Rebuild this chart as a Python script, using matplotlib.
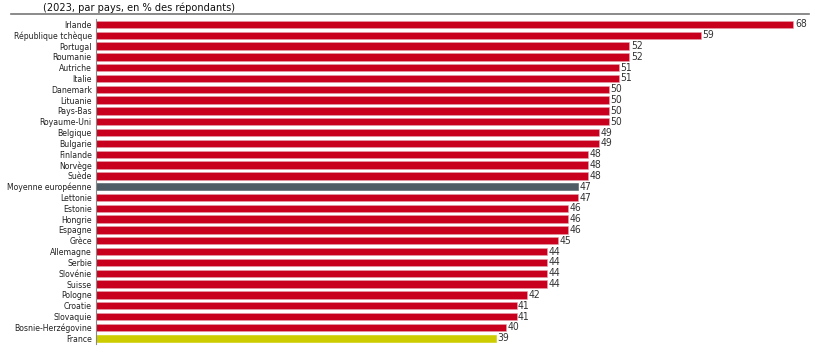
import matplotlib.pyplot as plt
from matplotlib.lines import Line2D

pays = ["Irlande", "République tchèque", "Portugal", "Roumanie", "Autriche", "Italie",
        "Danemark", "Lituanie", "Pays-Bas", "Royaume-Uni", "Belgique", "Bulgarie",
        "Finlande", "Norvège", "Suède", "Moyenne européenne", "Lettonie", "Estonie",
        "Hongrie", "Espagne", "Grèce", "Allemagne", "Serbie", "Slovénie", "Suisse",
        "Pologne", "Croatie", "Slovaquie", "Bosnie-Herzégovine", "France"]
valeurs = [68, 59, 52, 52, 51, 51, 50, 50, 50, 50, 49, 49, 48, 48, 48, 47, 47, 46,
           46, 46, 45, 44, 44, 44, 44, 42, 41, 41, 40, 39]

ROUGE = "#c8001e"
GRIS = "#4f5e66"
JAUNE = "#cccc00"

couleurs = []
for p in pays:
    if p == "Moyenne européenne":
        couleurs.append(GRIS)
    elif p == "France":
        couleurs.append(JAUNE)
    else:
        couleurs.append(ROUGE)

fig = plt.figure(figsize=(8.17, 3.51), dpi=100)
ax = fig.add_axes([0.1175, 0.021, 0.8725, 0.925])

y = list(range(len(pays)))
ax.barh(y, valeurs, height=0.68, color=couleurs, edgecolor="#e8a0aa", linewidth=0.4)
for barre, c in zip(ax.patches, couleurs):
    if c != ROUGE:
        barre.set_edgecolor(c)

for yi, v in zip(y, valeurs):
    ax.text(v + 0.15, yi, str(v), va="center", ha="left", fontsize=7.5,
            color="#333333", fontstretch="condensed")

ax.set_yticks(y)
ax.set_yticklabels(pays, fontsize=6.2, color="#222222", fontstretch="condensed")
ax.tick_params(axis="y", length=0, pad=3)
ax.set_ylim(len(pays) - 0.5, -0.5)
ax.set_xlim(0, 69.5)
ax.set_xticks([])

for s in ["top", "right", "bottom"]:
    ax.spines[s].set_visible(False)
ax.spines["left"].set_color("#888888")
ax.spines["left"].set_linewidth(0.8)

fig.text(0.053, 0.978, "(2023, par pays, en % des répondants)", fontsize=7.8,
         va="center", ha="left", color="#111111", fontstretch="condensed")
fig.add_artist(Line2D([0.013, 0.99], [0.96, 0.96], color="#777777", linewidth=1.2))

fig.savefig("out.png", dpi=100)
